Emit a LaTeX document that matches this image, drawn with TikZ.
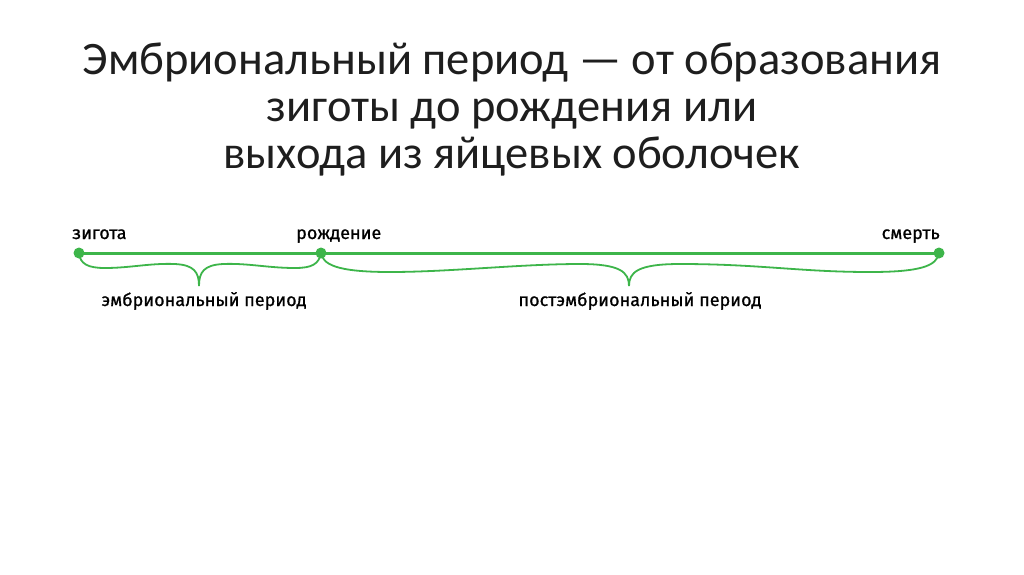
\documentclass[tikz,border=0pt]{standalone}
\usepackage{fontspec}
\setmainfont{Carlito}
\newfontfamily\lblfont{Fira Sans}[FakeBold=0.8]
\definecolor{lgreen}{HTML}{3DB54A}
\definecolor{ttext}{HTML}{1E1E1E}
\tikzset{
  dot/.style={circle,fill=lgreen,inner sep=0pt,minimum size=11pt},
  tline/.style={draw=lgreen,line width=3pt},
  brace/.style={draw=lgreen,line width=1.8pt},
  lbl/.style={font=\lblfont\fontsize{18}{20}\selectfont,text=black,inner sep=0pt},
  titlestyle/.style={font=\fontsize{46.5}{47}\selectfont,text=ttext,inner sep=0pt,anchor=base}
}
\begin{document}
\begin{tikzpicture}[x=1pt,y=-1pt]
\useasboundingbox (0,0) rectangle (1024,574);
\fill[white] (0,0) rectangle (1024,574);
\node[titlestyle] (title1) at (512,74) {Эмбриональный период — от образования};
\node[titlestyle] (title2) at (512,121) {зиготы до рождения или};
\node[titlestyle] (title3) at (512,168) {выхода из яйцевых оболочек};
\node[dot] (z) at (79,253) {};
\node[dot] (r) at (321,253) {};
\node[dot] (s) at (939,253) {};
\draw[tline] (z.center) -- (r.center) -- (s.center);
\node[lbl,anchor=base west] (lz) at (72,239) {зигота};
\node[lbl,anchor=base west] (lr) at (296,239) {рождение};
\node[lbl,anchor=base east] (ls) at (940,239) {смерть};
\coordinate (t1) at (199,286);
\coordinate (t2) at (629,286);
\draw[brace] (z.center) .. controls (80,264) and (88,268) .. (105,268)
  .. controls (130,268) and (150,263) .. (175,264)
  .. controls (194,265) and (199,272) .. (t1)
  .. controls (199,272) and (204,265) .. (223,264)
  .. controls (248,263) and (268,268) .. (295,268)
  .. controls (312,268) and (319,264) .. (r.center);
\draw[brace] (r.center) .. controls (323,264) and (335,272) .. (390,272)
  .. controls (450,272) and (520,264) .. (580,264)
  .. controls (620,264) and (629,272) .. (t2)
  .. controls (629,272) and (638,264) .. (680,264)
  .. controls (760,264) and (800,272) .. (870,272)
  .. controls (920,272) and (937,266) .. (s.center);
\node[lbl,anchor=base] (le) at (204,306) {эмбриональный период};
\node[lbl,anchor=base] (lp) at (640,306) {постэмбриональный период};
\end{tikzpicture}
\end{document}
